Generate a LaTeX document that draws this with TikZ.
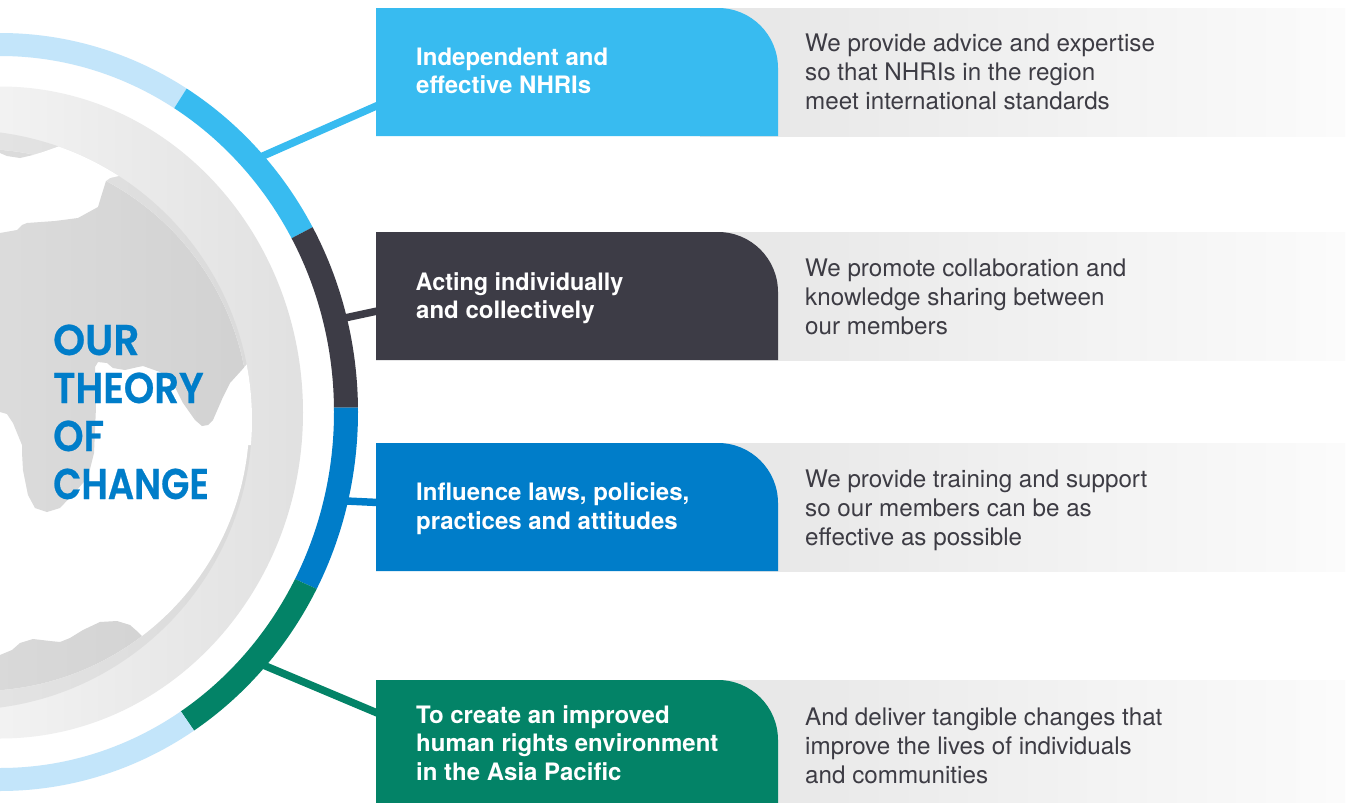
\documentclass[tikz,border=0pt]{standalone}
\usepackage{fontspec}
\setmainfont{TeX Gyre Heros}
\newfontfamily\ttlfont[FakeStretch=0.9,FakeBold=0.6]{Poppins SemiBold}
\definecolor{lightc}{HTML}{C3E5FA}
\definecolor{skyc}{HTML}{38BBF0}
\definecolor{darkc}{HTML}{3D3C46}
\definecolor{bluec}{HTML}{007DC9}
\definecolor{greenc}{HTML}{038367}
\definecolor{bodyc}{HTML}{3D3C44}
\tikzset{
  x=1pt,y=-1pt,
  conn/.style={line width=7.5pt,line cap=butt},
  card/.style={fill=#1},
  panel/.style={left color=black!10,right color=black!1.5,draw=none},
  lab/.style={anchor=base west,inner sep=0pt,align=left,text=white,font=\fontsize{24}{28}\selectfont\bfseries},
  bod/.style={anchor=base west,inner sep=0pt,align=left,text=bodyc,font=\fontsize{24.2}{29}\selectfont},
  ttl/.style={anchor=base west,inner sep=0pt,align=left,text=bluec,font=\fontsize{43}{48}\selectfont\ttlfont},
}
\def\ringc{(0,412.5) ellipse[x radius=303pt,y radius=326pt]}
\def\bandc{(-38,420) circle[radius=290pt]}
\def\globec{(-21.7,420) circle[radius=271pt]}
\def\annulus{(0,412) ellipse[x radius=358pt,y radius=379pt] (0,412) ellipse[x radius=334pt,y radius=356pt]}
\begin{document}
\begin{tikzpicture}
\useasboundingbox (0,0) rectangle (1350,803);
\clip (0,0) rectangle (1350,803);
\fill[white] (0,0) rectangle (1350,803);
% globe ring
\begin{scope}\clip \ringc; \shade[left color=black!5,right color=black!12] (0,80) rectangle (304,745);\end{scope}
\begin{scope}\clip \bandc; \shade[left color=black!11,right color=black!14.5] (0,120) rectangle (256,720);\end{scope}
\fill[white] \globec;
% sea over the band
\begin{scope}\clip \bandc;
\fill[white] (0,153) -- (7,156) -- (20,158) -- (33,155) -- (43,152) -- (60,146) -- (70,125) -- (135,125) -- (123,175) -- (110,178) -- (106,181) -- (101,197) -- (98,207) -- (60,210) -- (0,210) -- cycle;
\fill[white] (248,363) -- (262,355) -- (262,445) -- (240,445) -- (240,372) -- cycle;
\end{scope}
% continents
\begin{scope}\clip \globec;
\begin{scope}
\clip (-10,233) -- (0,233) -- (17,230) -- (22,225) -- (27,223) -- (55,221) -- (78,218) -- (98,207) -- (101,197) -- (106,181) -- (110,178) -- (123,175) -- (270,200) -- (270,350) -- (248,363) -- (240,372) -- (230,383) -- (223,397) -- (213,420) -- (208,425) -- (202,426) -- (195,420) -- (183,403) -- (173,383) -- (160,372) -- (143,366) -- (138,367) -- (125,370) -- (113,368) -- (107,363) -- (98,362) -- (95,367) -- (96,407) -- (94,453) -- (88,477) -- (77,490) -- (60,508) -- (47,512) -- (35,508) -- (28,495) -- (23,470) -- (22,452) -- (22,445) -- (13,423) -- (7,414) -- (0,412) -- (-10,412) -- cycle;
\shade[left color=black!14,right color=black!18] (0,150) rectangle (256,520);
\end{scope}
\begin{scope}
\clip (-10,655) -- (0,655) -- (12,650) -- (20,643) -- (33,639) -- (50,641) -- (60,642) -- (70,638) -- (83,630) -- (100,622) -- (117,621) -- (130,625) -- (138,632) -- (141,635) -- (200,700) -- (-10,720) -- cycle;
\shade[left color=black!15,right color=black!17] (0,610) rectangle (150,700);
\end{scope}
\fill[black!14] (-10,120) -- (60,120) -- (60,146) -- (43,152) -- (33,155) -- (20,158) -- (7,156) -- (0,153) -- (-10,150) -- cycle;
\end{scope}
% connectors
\coordinate (r1) at (259.5,157.5); \coordinate (t1) at (382,103.5);
\coordinate (r2) at (341,318.8);   \coordinate (t2) at (382,310);
\coordinate (r3) at (342,500.8);   \coordinate (t3) at (382,502.7);
\coordinate (r4) at (262,664.5);   \coordinate (t4) at (382,715);
\draw[conn,skyc] (r1) -- (t1);
\draw[conn,darkc] (r2) -- (t2);
\draw[conn,bluec] (r3) -- (t3);
\draw[conn,greenc] (r4) -- (t4);
% outer ring segments
\begin{scope}\clip (169,116.5) -- (193,78.5) -- (193,0) -- (-10,0) -- (-10,116.5) -- cycle;
\fill[lightc,even odd rule] \annulus;\end{scope}
\begin{scope}\clip (169,116.5) -- (193,78.5) -- (330,100) -- (322.5,222) -- (284.5,242) -- cycle;
\fill[skyc,even odd rule] \annulus;\end{scope}
\begin{scope}\clip (284.5,242) -- (322.5,222) -- (420,300) -- (370,407.5) -- (322,407.5) -- cycle;
\fill[darkc,even odd rule] \annulus;\end{scope}
\begin{scope}\clip (322,407.5) -- (370,407.5) -- (420,500) -- (327,593.5) -- (287,575.5) -- cycle;
\fill[bluec,even odd rule] \annulus;\end{scope}
\begin{scope}\clip (287,575.5) -- (327,593.5) -- (320,720) -- (201.5,741.5) -- (175.5,703.5) -- cycle;
\fill[greenc,even odd rule] \annulus;\end{scope}
\begin{scope}\clip (175.5,703.5) -- (201.5,741.5) -- (201.5,803) -- (-10,803) -- (-10,703.5) -- cycle;
\fill[lightc,even odd rule] \annulus;\end{scope}
% panels and cards
\shade[panel] (700,8) rectangle (1345,136);
\shade[panel] (700,232) rectangle (1345,360);
\shade[panel] (700,443) rectangle (1345,571);
\shade[panel] (700,680) rectangle (1345,808);
\fill[card=skyc] (376,8) -- (718,8) arc[start angle=-90,end angle=0,radius=60] -- (778,136) -- (376,136) -- cycle;
\fill[card=darkc] (376,232) -- (718,232) arc[start angle=-90,end angle=0,radius=60] -- (778,360) -- (376,360) -- cycle;
\fill[card=bluec] (376,443) -- (718,443) arc[start angle=-90,end angle=0,radius=60] -- (778,571) -- (376,571) -- cycle;
\fill[card=greenc] (376,680) -- (718,680) arc[start angle=-90,end angle=0,radius=60] -- (778,808) -- (376,808) -- cycle;
% text
\node[ttl] (ti1) at (53,355) {\scalebox{1.05}[1]{OUR}};
\node[ttl] (ti2) at (53,403) {THEORY};
\node[ttl] (ti3) at (53,451) {OF};
\node[ttl] (ti4) at (53,499) {\scalebox{0.95}[1]{CHANGE}};
\node[lab] (l1a) at (416,65) {Independent and};
\node[lab] (l1b) at (416,93) {effective NHRIs};
\node[lab] (l2a) at (415.5,290) {\scalebox{0.975}[1]{Acting individually}};
\node[lab] (l2b) at (416,318) {and collectively};
\node[lab] (l3a) at (416,500) {Influence laws, policies,};
\node[lab] (l3b) at (416,529) {practices and attitudes};
\node[lab] (l4a) at (416,723) {To create an improved};
\node[lab] (l4b) at (416,751) {human rights environment};
\node[lab] (l4c) at (416,780) {in the Asia Pacific};
\node[bod] (b1a) at (805,51) {We provide advice and expertise};
\node[bod] (b1b) at (805,80) {so that NHRIs in the region};
\node[bod] (b1c) at (805,109) {meet international standards};
\node[bod] (b2a) at (805,276) {We promote collaboration and};
\node[bod] (b2b) at (805,305) {knowledge sharing between};
\node[bod] (b2c) at (805,334) {our members};
\node[bod] (b3a) at (805,487) {We provide training and support};
\node[bod] (b3b) at (805,516) {so our members can be as};
\node[bod] (b3c) at (805,545) {effective as possible};
\node[bod] (b4a) at (805,725) {And deliver tangible changes that};
\node[bod] (b4b) at (805,754) {improve the lives of individuals};
\node[bod] (b4c) at (805,783) {and communities};
\end{tikzpicture}
\end{document}
